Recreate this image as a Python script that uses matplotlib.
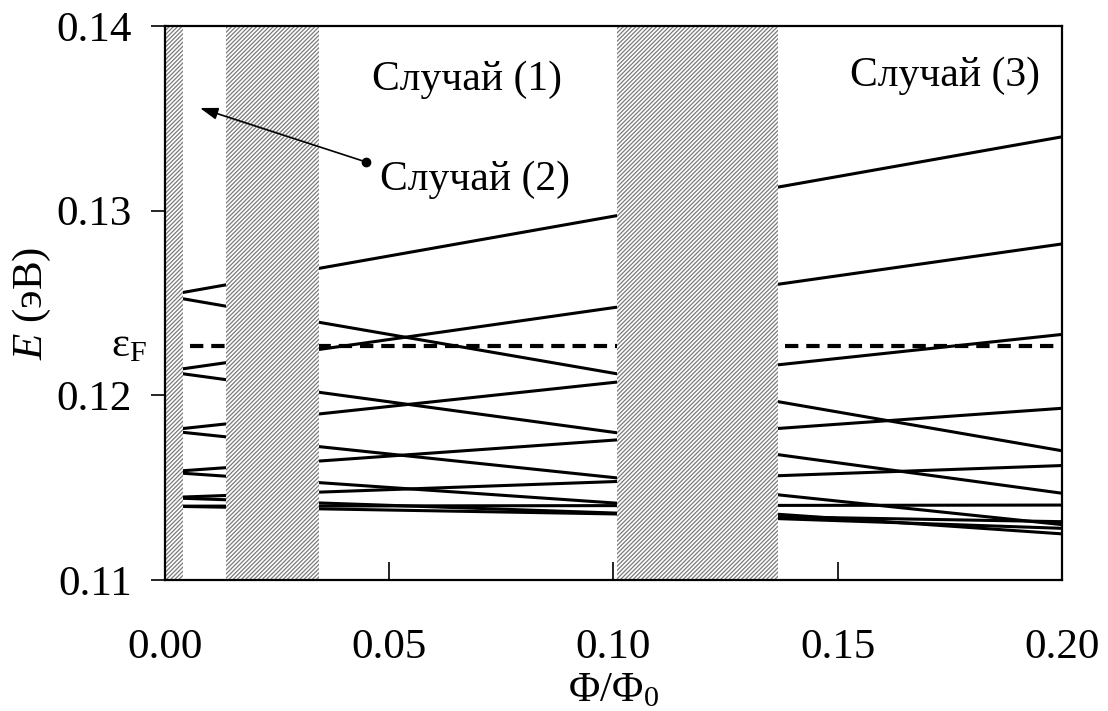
import matplotlib.pyplot as plt

plt.rcParams['font.family'] = ['Liberation Serif', 'DejaVu Serif']
plt.rcParams['mathtext.fontset'] = 'custom'
plt.rcParams['mathtext.rm'] = 'Liberation Serif'
plt.rcParams['mathtext.it'] = 'Liberation Serif:italic'
plt.rcParams['hatch.linewidth'] = 0.9

# energy levels: value at flux 0 and at flux 0.2 (eV)
flux_ends = [0.0, 0.2]
e_start = [0.1254, 0.1254, 0.1213, 0.1213, 0.1181, 0.1181,
           0.11585, 0.11585, 0.11446, 0.11446, 0.1140, 0.1140]
e_end = [0.1340, 0.1170, 0.1282, 0.1147, 0.1233, 0.1130,
         0.1193, 0.1125, 0.1162, 0.1128, 0.11406, 0.11316]

fermi_level = 0.12269
fermi_range = [0.0055, 0.2]

# hatched (excluded) flux ranges
bands = [(0.0, 0.004), (0.0136, 0.0343), (0.1008, 0.1367)]

case_labels = ['Случай (1)', 'Случай (3)', 'Случай (2)']
case_pos = [(0.0462, 0.1371), (0.1527, 0.1373), (0.0479, 0.1317)]
arrow_tail = (0.0448, 0.13264)
arrow_head = (0.0078, 0.13556)

fig = plt.figure(figsize=(11.08, 7.11), dpi=100)
ax = fig.add_axes([0.1489, 0.1842, 0.8096, 0.7792])

for a, b in zip(e_start, e_end):
    ax.plot(flux_ends, [a, b], color='black', linewidth=2.2, zorder=2,
            solid_capstyle='butt')

ax.plot(fermi_range, [fermi_level, fermi_level], color='black', linewidth=3,
        dashes=(3.2, 1.9), zorder=2)

for x0, x1 in bands:
    ax.axvspan(x0, x1, facecolor='white', edgecolor='#7a7a7a',
               hatch='////////', linewidth=0, zorder=3)

for txt, (x, y) in zip(case_labels, case_pos):
    ax.text(x, y, txt, fontsize=30, ha='left', va='center', zorder=5)

ax.annotate('', xy=arrow_head, xytext=arrow_tail,
            arrowprops=dict(arrowstyle='-|>,head_length=0.9,head_width=0.3',
                            color='black', lw=1.2,
                            mutation_scale=12, shrinkA=0, shrinkB=0),
            zorder=5)
ax.plot([arrow_tail[0]], [arrow_tail[1]], 'o', color='black', markersize=6,
        zorder=6)

ax.set_xlim(0, 0.2)
ax.set_ylim(0.11, 0.14)
ax.set_xticks([0.0, 0.05, 0.10, 0.15, 0.20])
ax.set_xticklabels(['0.00', '0.05', '0.10', '0.15', '0.20'])
ax.set_yticks([0.11, 0.12, 0.13, 0.14])
ax.set_yticklabels(['0.11', '0.12', '0.13', '0.14'])

ax.tick_params(axis='x', direction='in', length=13, width=1.2, pad=35,
               labelsize=31)
ax.tick_params(axis='y', direction='out', length=10, width=1.2, pad=14,
               labelsize=31)
for s in ax.spines.values():
    s.set_linewidth(1.6)
    s.set_zorder(4)

ax.text(-0.004, fermi_level, 'ε$_\\mathrm{F}$', fontsize=31, ha='right',
        va='center')

ax.set_xlabel('Φ/Φ$_0$', fontsize=31, labelpad=3.5)
ax.set_ylabel('$E$ (эВ)', fontsize=31, labelpad=2)

fig.savefig('out.png', dpi=100)
